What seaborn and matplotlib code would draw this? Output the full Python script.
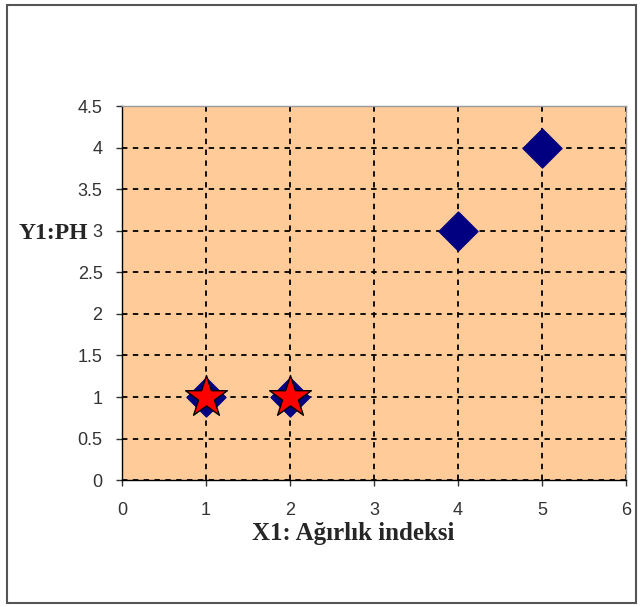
import matplotlib
matplotlib.use("Agg")
import matplotlib.pyplot as plt
import seaborn as sns
import pandas as pd
from matplotlib.patches import Rectangle

# data
x_all = [1, 2, 4, 5]
y_all = [1, 1, 3, 4]
x_star = [1, 2]
y_star = [1, 1]

x_ticks = [0, 1, 2, 3, 4, 5, 6]
y_ticks = [0, 0.5, 1, 1.5, 2, 2.5, 3, 3.5, 4, 4.5]
y_tick_labels = ["0", "0.5", "1", "1.5", "2", "2.5", "3", "3.5", "4", "4.5"]

sns.set_style("white")
plt.rcParams['font.family'] = ['Liberation Sans', 'DejaVu Sans']
serif = ["Liberation Serif", "DejaVu Serif"]

fig = plt.figure(figsize=(6.42, 6.07), dpi=100)
ax = fig.add_axes([0.190, 0.209, 0.785, 0.616])
ax.set_facecolor("#FFCC99")

df_all = pd.DataFrame({"x": x_all, "y": y_all})
df_star = pd.DataFrame({"x": x_star, "y": y_star})

sns.scatterplot(data=df_all, x="x", y="y", marker="D", s=400, color="#000080",
                edgecolor="#000080", linewidth=0.8, ax=ax, zorder=3)
sns.scatterplot(data=df_star, x="x", y="y", marker="*", s=1000, color="#FF0000",
                edgecolor="#000000", linewidth=1.0, ax=ax, zorder=4)

ax.set_xlim(0, 6)
ax.set_ylim(0, 4.5)
ax.set_xticks(x_ticks)
ax.set_yticks(y_ticks)
ax.set_yticklabels(y_tick_labels)
ax.grid(True, color="black", linestyle=(0, (3, 3)), linewidth=1.3)
ax.set_axisbelow(True)

for s in ["left", "bottom"]:
    ax.spines[s].set_color("black")
    ax.spines[s].set_linewidth(1.0)
for s in ["top", "right"]:
    ax.spines[s].set_color("#999999")
    ax.spines[s].set_linewidth(1.0)

ax.tick_params(axis="both", labelsize=13, colors="#333333", length=4,
               direction="out", width=1, bottom=True, left=True)
ax.tick_params(axis="x", pad=12)
ax.tick_params(axis="y", pad=10)

ax.set_xlabel("")
ax.set_ylabel("")
fig.text(353 / 642, 1 - 540 / 607, "X1: Ağırlık indeksi", fontsize=18,
         fontweight="bold", family=serif, ha="center", va="baseline")
fig.text(88 / 642, 1 - 239 / 607, "Y1:PH", fontsize=17, fontweight="bold",
         family=serif, ha="right", va="baseline")

# outer chart border
fig.patches.append(Rectangle((7 / 642, 4 / 607), 629 / 642, 598 / 607,
                             transform=fig.transFigure, fill=False,
                             edgecolor="#555555", linewidth=1.5))

fig.savefig("out.png", dpi=100)
